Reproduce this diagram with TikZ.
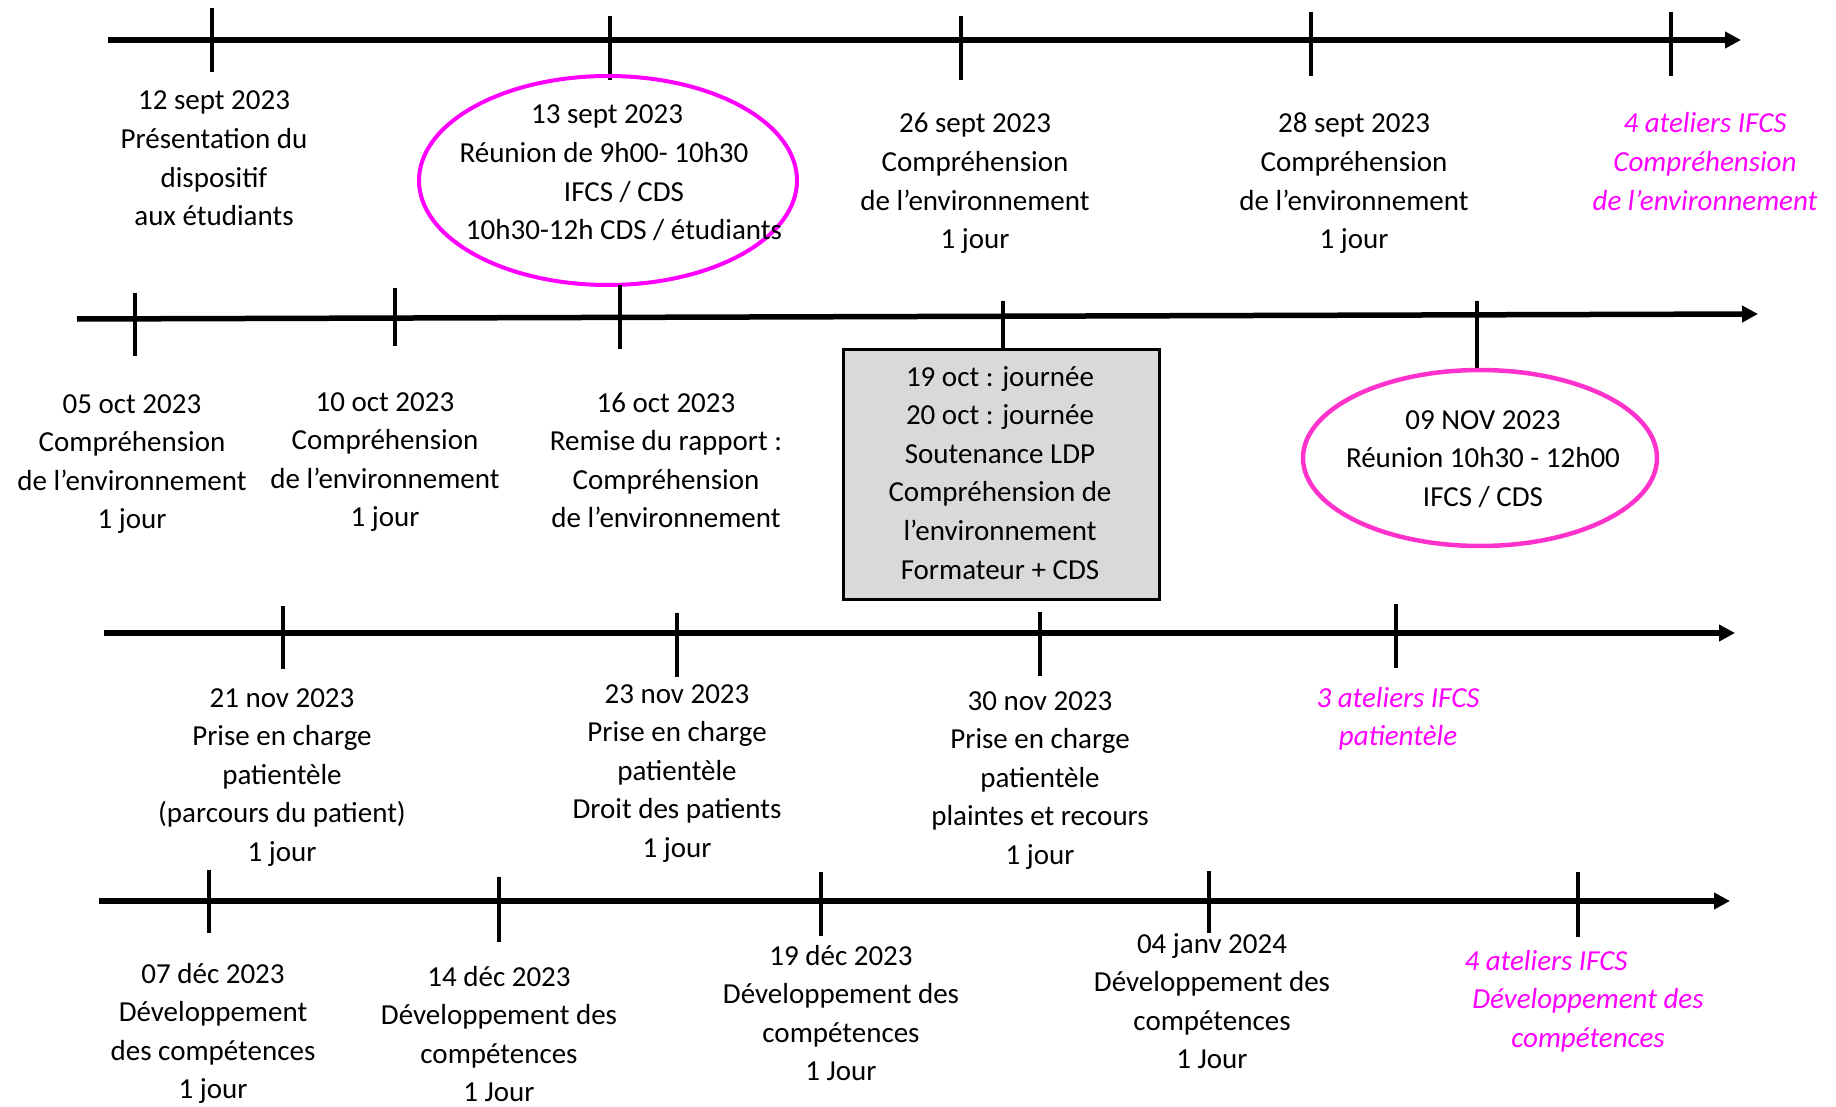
\documentclass[tikz,border=0pt]{standalone}
\usepackage{fontspec}
\setmainfont{Carlito}
\usetikzlibrary{arrows.meta,shapes.geometric}
\definecolor{mag}{RGB}{255,0,255}
\definecolor{pinkring}{RGB}{255,51,204}
\definecolor{boxgray}{RGB}{217,217,217}
\newcommand{\evtlines}[1]{\begin{tabular}[t]{@{}c@{}}#1\end{tabular}}
\newcommand{\evtfont}{\fontsize{29}{38.6}\selectfont}
\begin{document}
\begin{tikzpicture}[x=1pt,y=-1pt,
  axis/.style={line width=5.5pt,-{Triangle[length=16pt,width=16pt]}},
  tickmark/.style={line width=4.5pt},
  evt/.style={anchor=base,inner sep=0pt,font=\evtfont},
  atelier/.style={evt,text=mag,font=\evtfont\itshape},
  ring/.style={ellipse,draw,line width=4pt,inner sep=0pt}]
\useasboundingbox (0,0) rectangle (1836,1107);

% ---- row 1 : September ----
\coordinate (a1s) at (108,40);
\coordinate (a1e) at (1741,40);
\draw[axis] (a1s) -- (a1e);
\foreach \x/\ya/\yb in {212/8/72, 610/16/80, 961/16/80, 1311/12/76, 1671/12/76}
  \draw[tickmark] (\x,\ya) -- (\x,\yb);

\node[ring,draw=mag,minimum width=378pt,minimum height=209pt] (meet1) at (608,180.5) {};

\node[evt] (sept12) at (214,110) {\evtlines{12 sept 2023\\Présentation du\\dispositif\\aux étudiants}};
\node[evt] (sept13) at (604,124) {\evtlines{\hspace*{6pt}13 sept 2023\\Réunion de 9h00- 10h30\\\hspace*{40pt}IFCS / CDS\\\hspace*{40pt}10h30-12h CDS / étudiants}};
\node[evt] (sept26) at (975,133) {\evtlines{26 sept 2023\\Compréhension\\de l’environnement\\1 jour}};
\node[evt] (sept28) at (1354,133) {\evtlines{28 sept 2023\\Compréhension\\de l’environnement\\1 jour}};
\node[atelier] (atel1) at (1705,133) {\evtlines{4 ateliers IFCS\\Compréhension\\de l’environnement}};

% ---- row 2 : October / November ----
\coordinate (a2s) at (77,319);
\coordinate (a2e) at (1758,314);
\draw[axis] (a2s) -- (a2e);
\foreach \x/\ya/\yb in {135/293/356, 395/288/346, 620/285/349, 1003/301/348, 1477/301/369}
  \draw[tickmark] (\x,\ya) -- (\x,\yb);

\node[draw,line width=3pt,fill=boxgray,minimum width=316pt,minimum height=250pt,inner sep=0pt] (soutenance) at (1001,474) {};
\node[ring,draw=pinkring,line width=4.5pt,minimum width=354pt,minimum height=176pt] (meet2) at (1480,458) {};

\node[evt] (oct05) at (132,413) {\evtlines{05 oct 2023\\Compréhension\\de l’environnement\\1 jour}};
\node[evt] (oct10) at (385,411) {\evtlines{10 oct 2023\\Compréhension\\de l’environnement\\1 jour}};
\node[evt] (oct16) at (666,412) {\evtlines{16 oct 2023\\Remise du rapport :\\Compréhension\\de l’environnement}};
\node[evt] (oct19) at (1000,386) {\evtlines{19 oct : journée\\20 oct : journée\\Soutenance LDP\\Compréhension de\\l’environnement\\Formateur + CDS}};
\node[evt] (nov09) at (1483,429) {\evtlines{09 NOV 2023\\Réunion 10h30 - 12h00\\IFCS / CDS}};

% ---- row 3 : November ----
\coordinate (a3s) at (104,633);
\coordinate (a3e) at (1735,633);
\draw[axis] (a3s) -- (a3e);
\foreach \x/\ya/\yb in {283/606/669, 677/613/677, 1040/612/676, 1396/604/668}
  \draw[tickmark] (\x,\ya) -- (\x,\yb);

\node[evt] (nov21) at (282,707) {\evtlines{21 nov 2023\\Prise en charge\\patientèle\\(parcours du patient)\\1 jour}};
\node[evt] (nov23) at (677,703) {\evtlines{23 nov 2023\\Prise en charge\\patientèle\\Droit des patients\\1 jour}};
\node[evt] (nov30) at (1040,710) {\evtlines{30 nov 2023\\Prise en charge\\patientèle\\plaintes et recours\\1 jour}};
\node[atelier] (atel2) at (1398,707) {\evtlines{3 ateliers IFCS\\patientèle}};

% ---- row 4 : December / January ----
\coordinate (a4s) at (99,901);
\coordinate (a4e) at (1730,901);
\draw[axis] (a4s) -- (a4e);
\foreach \x/\ya/\yb in {209/870/933, 499/877/942, 821/872/936, 1209/871/933, 1578/872/937}
  \draw[tickmark] (\x,\ya) -- (\x,\yb);

\node[evt] (dec07) at (213,983) {\evtlines{07 déc 2023\\Développement\\des compétences\\1 jour}};
\node[evt] (dec14) at (499,986) {\evtlines{14 déc 2023\\Développement des\\compétences\\1 Jour}};
\node[evt] (dec19) at (841,965) {\evtlines{19 déc 2023\\Développement des\\compétences\\1 Jour}};
\node[evt] (jan04) at (1212,953) {\evtlines{04 janv 2024\\Développement des\\compétences\\1 Jour}};
\node[atelier] (atel3) at (1588,970) {\evtlines{\hspace*{-84pt}4 ateliers IFCS\\Développement des\\compétences}};
\end{tikzpicture}
\end{document}
